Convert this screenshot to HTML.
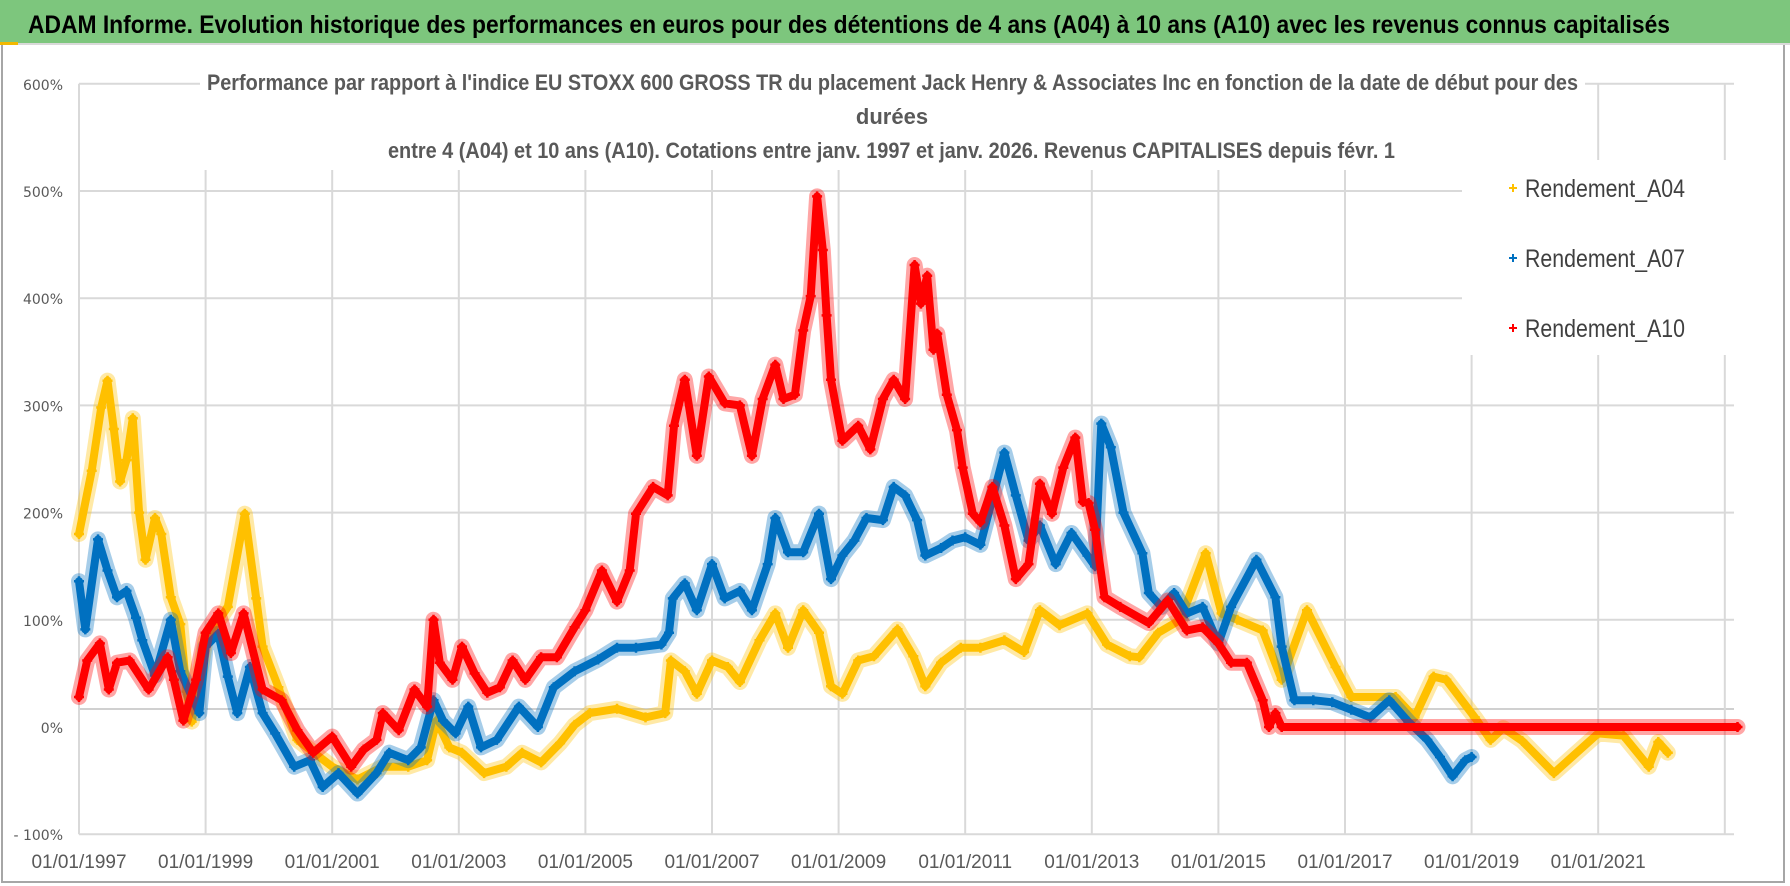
<!DOCTYPE html>
<html><head><meta charset="utf-8">
<style>
html,body{margin:0;padding:0;background:#fff;}
body{width:1790px;height:886px;overflow:hidden;}
svg{display:block;}
</style></head>
<body>
<svg id="chart" width="1790" height="886" viewBox="0 0 1790 886" xmlns="http://www.w3.org/2000/svg">
  <rect x="0" y="0" width="1790" height="886" fill="#fff"/>
  <rect x="2" y="44" width="1782" height="838" fill="none" stroke="#a6a6a6" stroke-width="2"/>
  <rect x="0" y="0" width="1790" height="43" fill="#7dc67d"/>
  <rect x="0" y="43" width="1790" height="2" fill="#d9d9d9"/>
  <rect x="0" y="42" width="18" height="3" fill="#f2b800"/>
  <text x="28" y="33" font-family="'Liberation Sans Narrow','Liberation Sans',sans-serif" font-weight="bold" font-size="25" fill="#000" textLength="1642" lengthAdjust="spacingAndGlyphs">ADAM Informe. Evolution historique des performances en euros pour des détentions de 4 ans (A04) à 10 ans (A10) avec les revenus connus capitalisés</text>
  <g id="grid"></g>
  <g id="series"></g>
  <rect x="200" y="62" width="1385" height="108" fill="#fff"/>
  <text x="207" y="90" font-family="'Liberation Sans Narrow','Liberation Sans',sans-serif" font-weight="bold" font-size="22" fill="#595959" textLength="1371" lengthAdjust="spacingAndGlyphs">Performance par rapport à l'indice EU STOXX 600 GROSS TR  du placement Jack Henry &amp; Associates Inc en fonction de la date de début pour des</text>
  <text x="892" y="124" text-anchor="middle" font-family="'Liberation Sans Narrow','Liberation Sans',sans-serif" font-weight="bold" font-size="22" fill="#595959">durées</text>
  <text x="388" y="158" font-family="'Liberation Sans Narrow','Liberation Sans',sans-serif" font-weight="bold" font-size="22" fill="#595959" textLength="1007" lengthAdjust="spacingAndGlyphs">entre 4 (A04) et 10 ans (A10).  Cotations entre janv. 1997 et janv. 2026. Revenus CAPITALISES  depuis févr. 1</text>
  <rect x="1462" y="160" width="272" height="195" fill="#fff"/>
  <g id="legend"></g>
</svg>
<script>
// ---- data (percent) ----
const a04Years = [1997.0,1997.2,1997.35,1997.45,1997.55,1997.65,1997.75,1997.85,1997.95,1998.05,1998.2,1998.3,1998.45,1998.6,1998.7,1998.78,1999.0,1999.35,1999.62,1999.8,1999.9,2000.15,2000.45,2001.0,2001.4,2001.8,2002.2,2002.5,2002.65,2002.85,2003.05,2003.4,2003.75,2004.0,2004.3,2004.6,2004.83,2005.07,2005.5,2005.95,2006.26,2006.35,2006.57,2006.76,2007.0,2007.25,2007.44,2007.75,2008.0,2008.2,2008.44,2008.69,2008.88,2009.06,2009.31,2009.56,2009.93,2010.18,2010.37,2010.62,2010.93,2011.24,2011.62,2011.93,2012.18,2012.49,2012.93,2013.24,2013.6,2013.75,2014.05,2014.4,2014.8,2015.05,2015.3,2015.7,2016.0,2016.4,2016.85,2017.1,2017.8,2018.1,2018.4,2018.6,2019.05,2019.3,2019.5,2019.8,2020.3,2021.0,2021.4,2021.8,2021.95,2022.1];
const a04Values = [180,239,298,323,278,229,249,288,200,156,195,180,121,96,33,5,81,112,199,120,75,37,-12,-37,-49,-37,-37,-31,6,-19,-24,-43,-37,-24,-33,-15,2,13,17,9,13,62,52,31,62,56,42,81,106,74,109,88,38,31,62,66,91,66,38,60,74,74,81,70,109,95,106,77,66,65,88,100,162,106,100,90,44,109,56,28,28,9,47,44,9,-12,-1,-13,-43,-6,-8,-37,-14,-24];

const a07Years = [1997.0,1997.1,1997.3,1997.45,1997.6,1997.75,1997.9,1998.0,1998.2,1998.45,1998.6,1998.9,1999.0,1999.2,1999.35,1999.5,1999.7,1999.9,2000.1,2000.4,2000.65,2000.85,2001.1,2001.4,2001.7,2001.9,2002.2,2002.4,2002.6,2002.75,2002.95,2003.15,2003.35,2003.6,2003.95,2004.25,2004.5,2004.83,2005.2,2005.5,2005.8,2006.2,2006.32,2006.38,2006.57,2006.76,2007.0,2007.2,2007.44,2007.63,2007.88,2008.0,2008.2,2008.44,2008.69,2008.88,2009.06,2009.25,2009.44,2009.7,2009.87,2010.05,2010.24,2010.37,2010.62,2010.8,2011.0,2011.24,2011.43,2011.62,2011.8,2012.0,2012.18,2012.43,2012.68,2012.93,2013.05,2013.15,2013.3,2013.5,2013.8,2013.9,2014.1,2014.3,2014.5,2014.75,2015.0,2015.2,2015.6,2015.9,2016.0,2016.2,2016.5,2016.8,2017.1,2017.4,2017.7,2018.0,2018.3,2018.5,2018.7,2018.9,2019.0];
const a07Values = [136,91,175,146,121,127,102,81,48,100,52,13,75,87,47,13,56,13,-6,-37,-31,-56,-43,-62,-43,-24,-31,-19,25,6,-6,19,-19,-12,19,0,37,52,63,74,74,77,88,120,134,109,152,120,127,109,152,195,163,163,199,138,160,174,195,193,224,216,193,160,167,174,177,170,213,256,216,174,188,152,181,160,150,283,261,200,162,125,112,125,106,112,78,112,156,121,75,25,25,23,16,9,25,5,-12,-28,-46,-31,-28];

const a10Years = [1997.0,1997.13,1997.33,1997.47,1997.6,1997.8,1998.1,1998.4,1998.5,1998.65,1998.85,1999.0,1999.2,1999.4,1999.6,1999.9,2000.2,2000.45,2000.7,2001.0,2001.3,2001.5,2001.7,2001.8,2002.05,2002.3,2002.5,2002.6,2002.7,2002.9,2003.05,2003.25,2003.45,2003.65,2003.85,2004.05,2004.3,2004.55,2004.83,2005.0,2005.26,2005.5,2005.7,2005.8,2006.07,2006.3,2006.4,2006.57,2006.76,2006.95,2007.2,2007.44,2007.63,2007.8,2008.0,2008.13,2008.31,2008.44,2008.56,2008.66,2008.75,2008.81,2008.88,2009.06,2009.31,2009.5,2009.7,2009.87,2010.05,2010.2,2010.3,2010.4,2010.5,2010.56,2010.71,2010.87,2010.96,2011.12,2011.24,2011.43,2011.62,2011.8,2012.0,2012.18,2012.37,2012.55,2012.74,2012.86,2012.95,2013.05,2013.2,2013.45,2013.9,2014.2,2014.5,2014.75,2015.0,2015.2,2015.45,2015.7,2015.8,2015.9,2016.0,2023.2];
const a10Values = [28,62,78,35,60,62,35,65,44,6,44,88,106,69,106,35,25,-3,-24,-9,-37,-21,-12,13,-3,35,19,100,60,44,75,50,32,37,62,44,65,65,93,109,146,117,146,199,224,216,281,324,253,327,302,300,253,306,338,306,310,370,402,495,445,384,324,267,281,259,306,324,306,431,395,421,352,367,310,277,242,199,191,224,188,138,152,227,199,242,270,210,209,184,121,112,97,118,90,93,78,60,60,25,0,13,0,0];

const xTickLabels = ["01/01/1997","01/01/1999","01/01/2001","01/01/2003","01/01/2005","01/01/2007","01/01/2009","01/01/2011","01/01/2013","01/01/2015","01/01/2017","01/01/2019","01/01/2021"];
const xTickYears = [1997,1999,2001,2003,2005,2007,2009,2011,2013,2015,2017,2019,2021,2023];
const yTickValues = [600,500,400,300,200,100,0,-100];
const yTickLabels = ["600%","500%","400%","300%","200%","100%","0%","- 100%"];
const seriesNames = ["Rendement_A04","Rendement_A07","Rendement_A10"];

// ---- scales ----
const X0 = 79, PX_PER_YEAR = 63.3;
const Y0 = 727, PX_PER_PCT = 1.072;
function xs(year){ return X0 + (year - 1997) * PX_PER_YEAR; }
function ys(v){ return Y0 - v * PX_PER_PCT; }

const NS = "http://www.w3.org/2000/svg";
function mk(tag, attrs){ const e=document.createElementNS(NS,tag); for(const k in attrs) e.setAttribute(k,attrs[k]); return e; }

const grid = document.getElementById('grid');
const PLOT_RIGHT = 1734;
yTickValues.forEach((v,i)=>{
  if (v === 0 || v === -100) return;
  const l = mk('line',{x1:X0,x2:PLOT_RIGHT,y1:ys(v),y2:ys(v),stroke:'#d9d9d9','stroke-width':2});
  
  
  grid.appendChild(l);
});
const bl = mk('line',{x1:X0,x2:PLOT_RIGHT,y1:709,y2:709,stroke:'#d0d0d0','stroke-width':2});


grid.appendChild(bl);
const ax = mk('line',{x1:X0,x2:PLOT_RIGHT,y1:ys(-100),y2:ys(-100),stroke:'#d9d9d9','stroke-width':2});


grid.appendChild(ax);
xTickYears.forEach(yr=>{
  const l = mk('line',{x1:xs(yr),x2:xs(yr),y1:ys(600),y2:ys(-100),stroke:'#d9d9d9','stroke-width':2});
  
  
  grid.appendChild(l);
});
yTickValues.forEach((v,i)=>{
  const t = mk('text',{x:63,y:ys(v)+6,'text-anchor':'end','font-family':"'DejaVu Sans',sans-serif",'font-size':14,fill:'#595959'});
  t.textContent = yTickLabels[i];
  
  
  grid.appendChild(t);
});
xTickLabels.forEach((lab,i)=>{
  const t = mk('text',{x:xs(xTickYears[i]),y:868,'text-anchor':'middle','font-family':"'Liberation Sans Narrow','Liberation Sans',sans-serif",'font-size':19,fill:'#595959'});
  t.textContent = lab;
  
  
  grid.appendChild(t);
});

const layer = document.getElementById('series');
const colors = ['#ffc000','#0070c0','#ff0000'];
const allYears = [a04Years,a07Years,a10Years];
const allVals = [a04Values,a07Values,a10Values];
const names = ['series-a04','series-a07','series-a10'];
for (let s=0;s<3;s++){
  const g = mk('g',{});
  
  
  const yrs = allYears[s], vals = allVals[s];
  const pts = yrs.map((y,i)=>xs(y).toFixed(1)+','+ys(vals[i]).toFixed(1)).join(' ');
  const halo = mk('polyline',{points:pts,fill:'none',stroke:colors[s],'stroke-width':16,'stroke-opacity':0.35,'stroke-linejoin':'round','stroke-linecap':'round'});
  
  
  g.appendChild(halo);
  const pl = mk('polyline',{points:pts,fill:'none',stroke:colors[s],'stroke-width':8,'stroke-linejoin':'round','stroke-linecap':'round'});
  
  
  g.appendChild(pl);
  let d = '';
  yrs.forEach((y,i)=>{
    const cx = xs(y), cy = ys(vals[i]);
    d += `M${(cx-5).toFixed(1)} ${cy.toFixed(1)}h10M${cx.toFixed(1)} ${(cy-5).toFixed(1)}v10`;
  });
  const mp = mk('path',{d:d,stroke:colors[s],'stroke-width':2.5,fill:'none'});
  
  
  g.appendChild(mp);
  layer.appendChild(g);
}

const legend = document.getElementById('legend');
const legY = [188,258,328];
seriesNames.forEach((n,i)=>{
  const g = mk('g',{});
  
  
  const m = mk('path',{d:`M1509 ${legY[i]}h8M1513 ${legY[i]-4}v8`,stroke:colors[i],'stroke-width':2});
  
  
  g.appendChild(m);
  const t = mk('text',{x:1525,y:legY[i]+9,'font-family':"'Liberation Sans Narrow','Liberation Sans',sans-serif",'font-size':25,fill:'#404040',textLength:160,lengthAdjust:'spacingAndGlyphs'});
  t.textContent = n;
  
  
  g.appendChild(t);
  legend.appendChild(g);
});
</script>
</body></html>
